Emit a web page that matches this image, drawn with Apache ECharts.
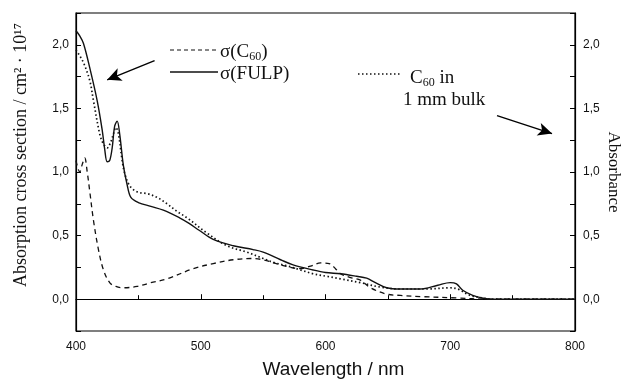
<!DOCTYPE html>
<html>
<head>
<meta charset="utf-8">
<script src="https://cdn.jsdelivr.net/npm/echarts@6/dist/echarts.min.js"></script>
<style>
  html, body { margin: 0; padding: 0; background: #fff; }
  #chart { width: 621px; height: 381px; }
</style>
</head>
<body>
<div id="chart"></div>
<script>
// sigma(FULP) - solid line
const fulpWl = [400, 403, 406, 411, 417, 421, 423, 425, 427, 429, 431, 433, 435, 438, 441, 444, 450, 460, 470, 483, 490, 499, 510, 526, 542, 550, 564, 574, 590, 600, 612, 625, 633, 640, 649, 660, 676, 690, 700, 705, 710, 718, 725, 732, 800]
const fulpVal = [2.11, 2.07, 2.01, 1.82, 1.56, 1.33, 1.18, 1.08, 1.09, 1.19, 1.36, 1.40, 1.30, 1.05, 0.90, 0.80, 0.76, 0.73, 0.70, 0.64, 0.60, 0.54, 0.47, 0.42, 0.39, 0.37, 0.31, 0.27, 0.23, 0.21, 0.20, 0.18, 0.165, 0.13, 0.09, 0.08, 0.08, 0.11, 0.13, 0.12, 0.07, 0.03, 0.01, 0, 0]

// sigma(C60) - dashed line
const c60Wl = [400, 403, 405, 407, 409, 411, 414, 418, 422, 427, 432, 438, 449, 460, 473, 494, 510, 526, 540, 550, 564, 580, 588, 596, 603, 608, 612, 620, 628, 636, 649, 660, 678, 705, 730, 800]
const c60Val = [1.09, 1.00, 1.06, 1.11, 1.00, 0.85, 0.62, 0.39, 0.23, 0.13, 0.10, 0.09, 0.10, 0.13, 0.16, 0.24, 0.28, 0.31, 0.32, 0.31, 0.27, 0.24, 0.26, 0.285, 0.28, 0.24, 0.20, 0.17, 0.15, 0.09, 0.04, 0.03, 0.02, 0.01, 0, 0]

// C60 in 1 mm bulk - dotted line (absorbance)
const bulkWl = [400, 402, 406, 411, 414, 419, 422, 425, 428, 430, 432, 434, 437, 439, 442, 445, 450, 457, 465, 473, 481, 489, 505, 521, 537, 550, 558, 570, 580, 590, 601, 612, 628, 644, 660, 681, 700, 706, 716, 726, 732, 800]
const bulkVal = [1.96, 1.93, 1.86, 1.72, 1.56, 1.30, 1.22, 1.19, 1.24, 1.30, 1.35, 1.30, 1.09, 0.99, 0.91, 0.87, 0.84, 0.83, 0.80, 0.75, 0.69, 0.64, 0.52, 0.42, 0.37, 0.32, 0.29, 0.26, 0.23, 0.20, 0.18, 0.16, 0.13, 0.095, 0.08, 0.08, 0.09, 0.08, 0.03, 0.01, 0, 0]

// annotation arrows [from, to] in data coordinates
const arrowLeft = [[463, 1.875], [425, 1.725]]
const arrowRight = [[737.5, 1.443], [781.6, 1.302]]

const pairs = (xs, ys) => xs.map((x, i) => [x, ys[i]])

const chart = echarts.init(document.getElementById('chart'))

const tickFont = { color: '#111', fontFamily: 'Liberation Sans', fontSize: 12 }
const fmt = v => {
  if (Math.abs(v * 2 - Math.round(v * 2)) > 1e-6) return ''
  if (v < 0 || v > 2.01) return ''
  return v.toFixed(1).replace('.', ',')
}

const yCommon = {
  type: 'value',
  min: -0.25,
  max: 2.25,
  interval: 0.25,
  axisLine: { show: true, lineStyle: { color: '#000', width: 1.2 } },
  axisTick: { show: true, inside: true, length: 5, lineStyle: { color: '#000' } },
  splitLine: { show: false },
  axisLabel: Object.assign({ formatter: fmt, showMinLabel: true, showMaxLabel: true }, tickFont)
}

const option = {
  animation: false,
  backgroundColor: '#fff',
  grid: {
    left: 76, top: 13, width: 499, height: 318,
    outerBoundsMode: 'none', containLabel: false,
    show: true, borderColor: '#000', borderWidth: 1.2, backgroundColor: 'transparent'
  },
  xAxis: {
    type: 'value',
    min: 400,
    max: 800,
    interval: 100,
    name: 'Wavelength / nm',
    nameLocation: 'middle',
    nameGap: 29,
    nameMoveOverlap: false,
    nameTextStyle: { color: '#111', fontFamily: 'Liberation Sans', fontSize: 19, padding: [0, 0, 0, 16] },
    axisLine: { show: true, lineStyle: { color: '#000', width: 1.2 } },
    axisTick: { show: true, inside: true, length: 5, lineStyle: { color: '#000' } },
    minorTick: { show: true, splitNumber: 2, length: 4, lineStyle: { color: '#000' } },
    splitLine: { show: false },
    axisLabel: Object.assign({ margin: 10 }, tickFont)
  },
  yAxis: [
    Object.assign({}, yCommon, {
      position: 'left',
      axisLabel: Object.assign({}, yCommon.axisLabel, { margin: 7 })
    }),
    Object.assign({}, yCommon, {
      position: 'right',
      name: 'Absorbance',
      nameLocation: 'middle',
      nameRotate: -90,
      nameGap: 30,
      nameMoveOverlap: false,
      nameTextStyle: { color: '#111', fontFamily: 'Liberation Serif', fontSize: 17 },
      axisLabel: Object.assign({}, yCommon.axisLabel, { margin: 8 })
    })
  ],
  graphic: [
    {
      type: 'text', x: 21, y: 155, rotation: Math.PI / 2,
      style: {
        text: 'Absorption cross section / cm² · 10¹⁷',
        fill: '#111', font: '18px "Liberation Serif"', align: 'center', verticalAlign: 'middle'
      }
    },
    { type: 'line', shape: { x1: 170, y1: 50, x2: 217, y2: 50 }, style: { stroke: '#111', lineWidth: 1.2, lineDash: [4, 3] } },
    {
      type: 'text', x: 220, y: 52,
      style: {
        text: '{a|σ(C}{s|60}{a|)}', verticalAlign: 'middle',
        rich: {
          a: { fontFamily: 'Liberation Serif', fontSize: 19, fill: '#111' },
          s: { fontFamily: 'Liberation Serif', fontSize: 12, fill: '#111', padding: [9, 0, 0, 0] }
        }
      }
    },
    { type: 'line', shape: { x1: 170, y1: 72, x2: 218, y2: 72 }, style: { stroke: '#111', lineWidth: 1.4 } },
    {
      type: 'text', x: 220, y: 74,
      style: { text: 'σ(FULP)', fill: '#111', font: '19px "Liberation Serif"', verticalAlign: 'middle' }
    },
    { type: 'line', shape: { x1: 358, y1: 74, x2: 400, y2: 74 }, style: { stroke: '#111', lineWidth: 1.6, lineDash: [1.5, 2.5] } },
    {
      type: 'text', x: 410, y: 78,
      style: {
        text: '{a|C}{s|60}{a| in}', verticalAlign: 'middle',
        rich: {
          a: { fontFamily: 'Liberation Serif', fontSize: 19, fill: '#111' },
          s: { fontFamily: 'Liberation Serif', fontSize: 12, fill: '#111', padding: [9, 0, 0, 0] }
        }
      }
    },
    {
      type: 'text', x: 403, y: 100,
      style: { text: '1 mm bulk', fill: '#111', font: '19px "Liberation Serif"', verticalAlign: 'middle' }
    }
  ],
  series: [
    {
      name: 'σ(C60)',
      type: 'line',
      data: pairs(c60Wl, c60Val),
      smooth: 0.35,
      showSymbol: false,
      lineStyle: { color: '#111', width: 1.3, type: [5, 4] },
      markLine: {
        silent: true,
        symbol: ['none', 'arrow'],
        symbolSize: [10, 14],
        label: { show: false },
        lineStyle: { color: '#000', width: 1.4, type: 'solid' },
        data: [
          [{ coord: arrowLeft[0] }, { coord: arrowLeft[1] }],
          [{ coord: arrowRight[0] }, { coord: arrowRight[1] }]
        ]
      }
    },
    {
      name: 'σ(FULP)',
      type: 'line',
      data: pairs(fulpWl, fulpVal),
      smooth: 0.35,
      showSymbol: false,
      lineStyle: { color: '#111', width: 1.4 }
    },
    {
      name: 'C60 in 1 mm bulk',
      type: 'line',
      yAxisIndex: 1,
      data: pairs(bulkWl, bulkVal),
      smooth: 0.35,
      showSymbol: false,
      lineStyle: { color: '#111', width: 1.7, type: [1.5, 2.5] }
    }
  ]
}

chart.setOption(option)
</script>
</body>
</html>
